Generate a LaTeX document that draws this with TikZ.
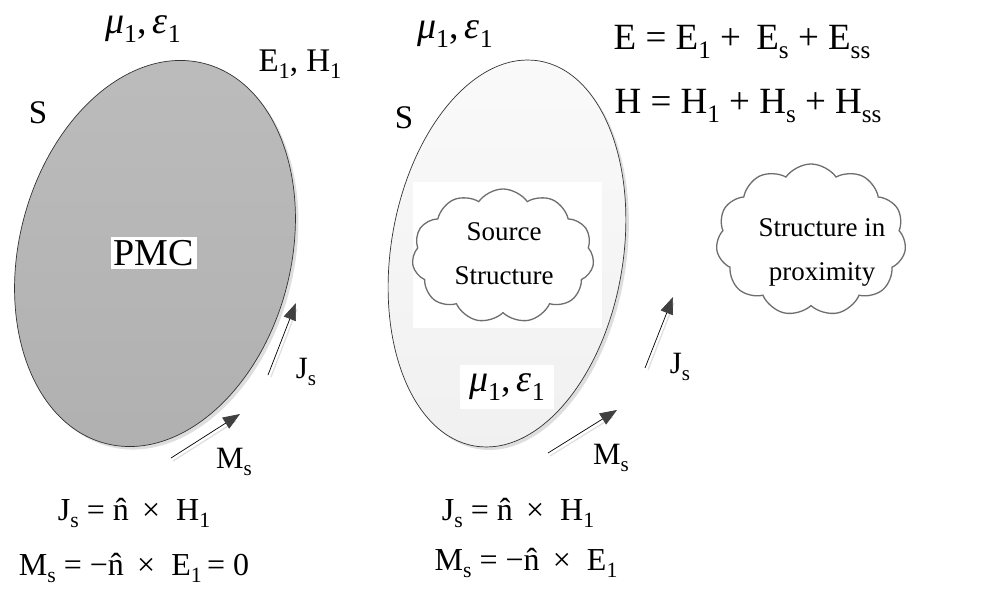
\documentclass[tikz,border=0pt]{standalone}
\usepackage{graphicx}
\usepackage{fontspec}
\setmainfont{Liberation Serif}
\usetikzlibrary{shapes.symbols,arrows.meta}
\definecolor{pmcgray}{RGB}{188,188,188}
\definecolor{pmcgrayb}{RGB}{176,176,176}
\definecolor{shadowgray}{RGB}{222,222,222}
\definecolor{lightfill}{RGB}{240,240,240}
\definecolor{tipgray}{RGB}{64,64,64}
\definecolor{cloudline}{RGB}{110,110,110}
\newcommand{\sbs}[1]{\raisebox{-0.22em}{\scalebox{0.68}{#1}}}
\newcommand{\mueps}{\textit{μ}\sbs{1},\,\textit{ε}\sbs{1}}
\newcommand{\nhat}{\^{n}}
\begin{document}
\begin{tikzpicture}[x=1pt,y=-1pt,
  outline/.style={draw=black!80,line width=0.7pt},
  arr/.style={draw=black,line width=0.7pt,-{Triangle[length=17pt,width=13pt,fill=tipgray,color=tipgray]}},
  arrshadow/.style={draw=shadowgray,line width=1.2pt},
  big/.style={font=\fontsize{38}{42}\selectfont},
  mid/.style={font=\fontsize{33}{36}\selectfont},
  jm/.style={font=\fontsize{31}{34}\selectfont},
  eqf/.style={font=\fontsize{32}{34}\selectfont},
  topeq/.style={font=\fontsize{37}{42}\selectfont},
  cloudtxt/.style={font=\fontsize{27}{44}\selectfont,align=center},
  mat/.style={font=\fontsize{38}{44}\selectfont},
  cloudbox/.style={cloud,cloud puffs=11,cloud puff arc=110,cloud ignores aspect,draw=cloudline,line width=1.3pt,fill=white,inner sep=0pt},
  wbox/.style={fill=white,inner sep=3pt}
]
\useasboundingbox (0,0) rectangle (998,593);
\fill[white] (0,0) rectangle (998,593);

% ---- left ellipse (PMC)
\coordinate (c1) at (155,253.5);
\coordinate (c1s) at (158,256.5);
\fill[shadowgray,rotate around={-14.6:(c1s)}] (c1s) ellipse [x radius=135.8,y radius=196.3];
\shade[top color=pmcgray,bottom color=pmcgrayb,outline,rotate around={-14.6:(c1)}] (c1) ellipse [x radius=135.8,y radius=196.3];

% ---- right ellipse
\coordinate (c2) at (507,253.5);
\coordinate (c2s) at (510,256.5);
\fill[shadowgray,rotate around={-9.5:(c2s)}] (c2s) ellipse [x radius=116,y radius=195.2];
\shade[top color=white!98!black,bottom color=lightfill,outline,rotate around={-9.5:(c2)}] (c2) ellipse [x radius=116,y radius=195.2];

% ---- labels, left
\node[mat] (mu1) at (143,29) {\mueps};
\node[mid,wbox,inner sep=5pt] (EH) at (300,64) {E\sbs{1}, H\sbs{1}};
\node[mid] (S1) at (38,113) {S};
\node[big,fill=white,inner sep=3pt] (pmc) at (154,253) {PMC};

% ---- labels, right
\node[mat] (mu2) at (455,34) {\mueps};
\node[mid] (S2) at (404,118) {S};
\node[mat,fill=white,inner sep=9pt] (mu3) at (507,387) {\mueps};

\node[topeq] (Eeq) at (742,42) {E = E\sbs{1} +\, E\sbs{s} + E\sbs{ss}};
\node[topeq] (Heq) at (748,106) {H = H\sbs{1} + H\sbs{s} + H\sbs{ss}};

% ---- clouds
\fill[white] (413,182) rectangle (602,328);
\node[cloudbox,minimum width=182pt,minimum height=134pt] (src) at (503,256) {};
\node[cloudtxt] (srct) at (504,254) {Source\\Structure};
\fill[white] (722,163) rectangle (900,316);
\node[cloudbox,minimum width=190pt,minimum height=152pt] (prox) at (811,240) {};
\node[cloudtxt] (proxt) at (822,252) {Structure in\\proximity};

% ---- arrows left
\coordinate (jl0) at (268,375);
\coordinate (jl1) at (296,303);
\coordinate (jl0s) at (271,377);
\coordinate (jl1s) at (297,309);
\draw[arrshadow] (jl0s) -- (jl1s);
\draw[arr] (jl0) -- (jl1);
\coordinate (ml0) at (171,458);
\coordinate (ml1) at (240,414);
\coordinate (ml0s) at (173,461);
\coordinate (ml1s) at (236,421);
\draw[arrshadow] (ml0s) -- (ml1s);
\draw[arr] (ml0) -- (ml1);
\node[jm] (jsl) at (306,372) {J\sbs{s}};
\node[jm] (msl) at (234,462) {M\sbs{s}};

% ---- arrows right
\coordinate (jr0) at (645,368);
\coordinate (jr1) at (673,297);
\coordinate (jr0s) at (648,370);
\coordinate (jr1s) at (674,303);
\draw[arrshadow] (jr0s) -- (jr1s);
\draw[arr] (jr0) -- (jr1);
\coordinate (mr0) at (548,453);
\coordinate (mr1) at (617,410);
\coordinate (mr0s) at (550,456);
\coordinate (mr1s) at (613,417);
\draw[arrshadow] (mr0s) -- (mr1s);
\draw[arr] (mr0) -- (mr1);
\node[jm] (jsr) at (680,367) {J\sbs{s}};
\node[jm] (msr) at (611,458) {M\sbs{s}};

% ---- bottom equations
\node[eqf] (bl1) at (134,513) {J\sbs{s} = \nhat\ \,× \ H\sbs{1}};
\node[eqf] (bl2) at (134,568) {M\sbs{s} = −\nhat\ \,× \ E\sbs{1}\,= 0};
\node[eqf] (br1) at (518,513) {J\sbs{s} = \nhat\ \,× \ H\sbs{1}};
\node[eqf] (br2) at (526,563) {M\sbs{s} = −\nhat\ \,× \ E\sbs{1}};
\end{tikzpicture}
\end{document}
